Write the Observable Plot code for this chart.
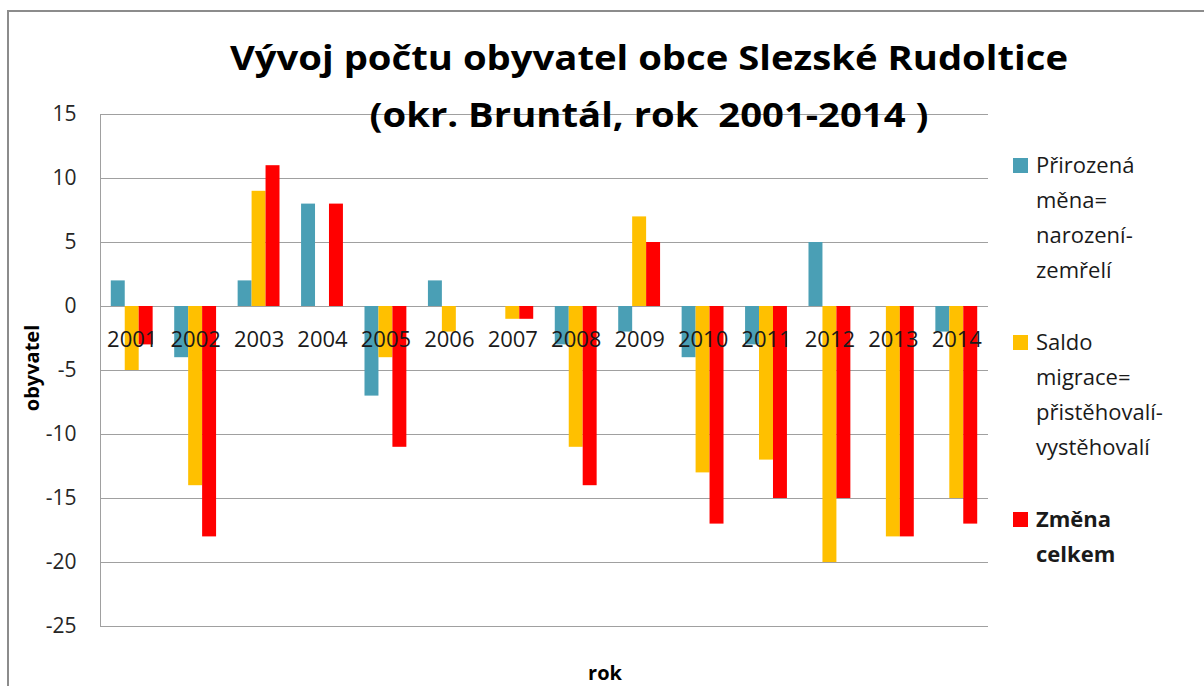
<!DOCTYPE html>
<html>
<head>
<meta charset="utf-8">
<script src="https://cdn.jsdelivr.net/npm/d3@7"></script>
<script src="https://cdn.jsdelivr.net/npm/@observablehq/plot@0.6"></script>
<style>
  html, body { margin: 0; padding: 0; background: #fff; }
  #wrap { position: relative; width: 1204px; height: 686px; overflow: hidden; font-family: "Open Sans", sans-serif; }
  #chart { position: absolute; left: 0; top: 0; }
  .border-top { position: absolute; left: 7px; top: 10px; width: 1197px; height: 2px; background: #8c8c8c; }
  .border-left { position: absolute; left: 7px; top: 10px; width: 2px; height: 676px; background: #8c8c8c; }
  .title { position: absolute; left: 649px; white-space: pre; font-weight: 700; font-size: 34px; line-height: 34px; color: #000; transform-origin: 0 0; }
  .legend-item { position: absolute; left: 1013px; }
  .legend-item .sw { position: absolute; left: 0; top: 11px; width: 15px; height: 15px; }
  .legend-item .tx { position: absolute; left: 23px; top: 0; font-size: 22px; line-height: 35px; color: #1a1a1a; white-space: pre; }
  .ylab { position: absolute; left: 31px; top: 368px; transform: translate(-50%, -50%) rotate(-90deg); font-weight: 700; font-size: 20px; color: #000; white-space: nowrap; }
  .xlab { position: absolute; left: 605px; top: 672px; transform: translate(-50%, -50%); font-weight: 700; font-size: 20px; color: #000; white-space: nowrap; }
</style>
</head>
<body>
<div id="wrap">
  <div id="chart"></div>
  <div class="border-top"></div>
  <div class="border-left"></div>
  <div class="title" id="t1" style="top:40px"></div>
  <div class="title" id="t2" style="top:97px"></div>
  <div class="ylab" id="ylab"></div>
  <div class="xlab" id="xlab"></div>
  <div id="legend"></div>
</div>
<script>
// ---- Data ----
const years = ["2001","2002","2003","2004","2005","2006","2007","2008","2009","2010","2011","2012","2013","2014"];
const prirozenaMena = [2, -4, 2, 8, -7, 2, 0, -3, -2, -4, -3, 5, 0, -2];
const saldoMigrace = [-5, -14, 9, 0, -4, -2, -1, -11, 7, -13, -12, -20, -18, -15];
const zmenaCelkem = [-3, -18, 11, 8, -11, 0, -1, -14, 5, -17, -15, -15, -18, -17];
const seriesNames = ["Přirozená\nměna=\nnarození-\nzemřelí", "Saldo\nmigrace=\npřistěhovalí-\nvystěhovalí", "Změna\ncelkem"];
const seriesColors = ["#4A9FB5", "#FFC000", "#FF0000"];
const yTicks = [-25, -20, -15, -10, -5, 0, 5, 10, 15];
const titleLines = ["Vývoj počtu obyvatel obce Slezské Rudoltice", "(okr. Bruntál, rok  2001-2014 )"];
const yLabel = "obyvatel";
const xLabel = "rok";

// ---- Layout ----
const W = 1204, H = 686, mL = 100, mR = 216, mT = 114, mB = 60;
const padInner = 0.34, padOuter = 0.17;
const step = (W - mL - mR) / (years.length - padInner + 2 * padOuter);
const third = step * (1 - padInner) / 3;

const seriesValues = [prirozenaMena, saldoMigrace, zmenaCelkem];
const rows = seriesValues.map(vals => years.map((y, i) => ({year: y, value: vals[i]})));

const chart = Plot.plot({
  width: W,
  height: H,
  marginLeft: mL,
  marginRight: mR,
  marginTop: mT,
  marginBottom: mB,
  style: {background: "transparent", fontFamily: "'Open Sans', sans-serif"},
  x: {domain: years, paddingInner: padInner, paddingOuter: padOuter, round: false, axis: null},
  y: {domain: [-25, 15]},
  marks: [
    Plot.gridY(yTicks, {stroke: "#A0A0A0", strokeOpacity: 1}),
    Plot.frame({anchor: "left", stroke: "#A0A0A0"}),
    Plot.axisY(yTicks, {tickSize: 0, tickPadding: 24, fontSize: 21, color: "#262626", label: null, tickFormat: d => String(d)}),
    Plot.barY(rows[0], {x: "year", y: "value", fill: seriesColors[0], insetRight: 2 * third}),
    Plot.barY(rows[1], {x: "year", y: "value", fill: seriesColors[1], insetLeft: third, insetRight: third}),
    Plot.barY(rows[2], {x: "year", y: "value", fill: seriesColors[2], insetLeft: 2 * third}),
    Plot.text(years, {x: d => d, y: () => 0, text: d => d, dy: 33, fontSize: 22, fill: "#1a1a1a"})
  ]
});
document.getElementById("chart").append(chart);

const t1 = document.getElementById("t1");
const t2 = document.getElementById("t2");
t1.textContent = titleLines[0];
t2.textContent = titleLines[1];
document.getElementById("ylab").textContent = yLabel;
document.getElementById("xlab").textContent = xLabel;

// Reference title is horizontally stretched: fit line 1 to its width
function fitTitle() {
  const target = 838;
  const w1 = t1.getBoundingClientRect().width;
  const sx = w1 > 0 ? target / w1 : 1;
  [t1, t2].forEach(t => {
    t.style.transform = "none";
    const w = t.getBoundingClientRect().width;
    t.style.transform = `translateX(${-w * sx / 2}px) scaleX(${sx})`;
  });
}
fitTitle();
if (document.fonts && document.fonts.ready) document.fonts.ready.then(() => { t1.style.transform = "none"; t2.style.transform = "none"; fitTitle(); });

const legendTops = [147, 324, 501];
const legend = document.getElementById("legend");
seriesNames.forEach((name, i) => {
  const item = document.createElement("div");
  item.className = "legend-item";
  item.style.top = legendTops[i] + "px";
  const sw = document.createElement("div");
  sw.className = "sw";
  sw.style.background = seriesColors[i];
  const tx = document.createElement("div");
  tx.className = "tx";
  if (i === 2) tx.style.fontWeight = "700";
  tx.textContent = name;
  item.append(sw, tx);
  legend.append(item);
});
</script>
</body>
</html>
